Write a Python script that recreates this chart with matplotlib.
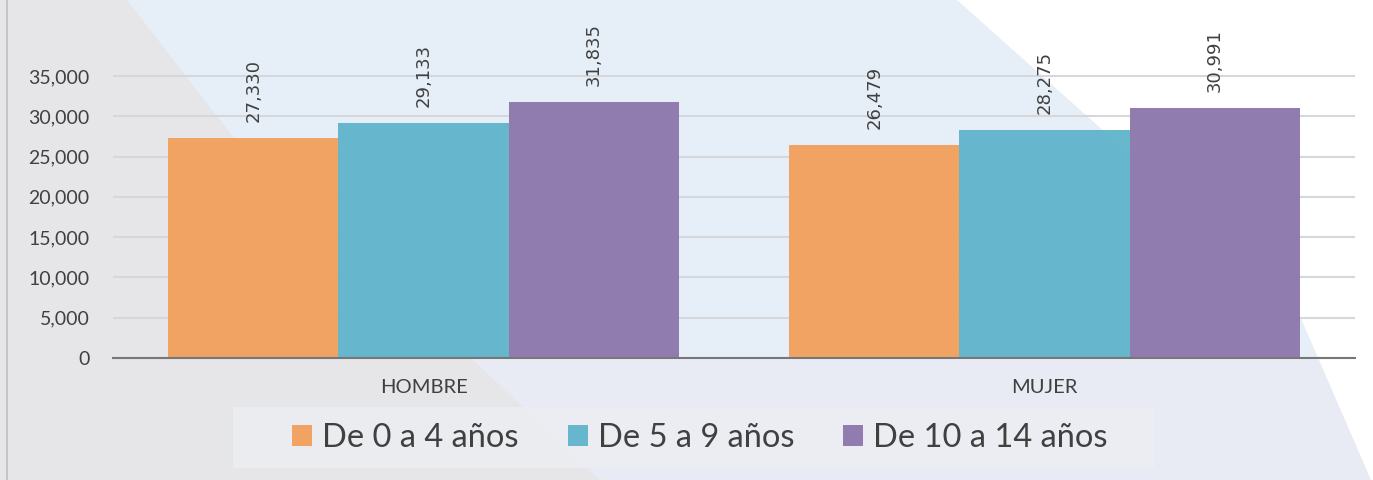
import matplotlib
matplotlib.use("Agg")
import matplotlib.pyplot as plt
from matplotlib.patches import Polygon, Rectangle
import numpy as np

categories = ["HOMBRE", "MUJER"]
series_names = ["De 0 a 4 años", "De 5 a 9 años", "De 10 a 14 años"]
values_0_4 = [27330, 26479]
values_5_9 = [29133, 28275]
values_10_14 = [31835, 30991]
series_values = [values_0_4, values_5_9, values_10_14]
colors = ["#f2a15f", "#62b5cc", "#8e78ae"]
yticks = [0, 5000, 10000, 15000, 20000, 25000, 30000, 35000]

W, H = 1373, 480
fig = plt.figure(figsize=(W / 100, H / 100), dpi=100)
fig.patch.set_facecolor("#e8ebf3")

def fx(px):
    return px / W

def fy(py):
    return 1 - py / H

# background decoration
bg = [
    ([(127, 0), (957, 0), (1293, 300), (1320, 360), (473, 360), (233, 137)], "#e6eff8"),
    ([(0, 0), (127, 0), (233, 137), (473, 360), (600, 480), (0, 480)], "#e6e6e9"),
    ([(957, 0), (1373, 0), (1373, 480), (1371, 480), (1293, 300)], "#ffffff"),
]
for pts, c in bg:
    fig.patches.append(Polygon([(fx(x), fy(y)) for x, y in pts], closed=True,
                               transform=fig.transFigure, facecolor=c,
                               edgecolor="none", zorder=-10))
fig.patches.append(Rectangle((fx(6), 0), fx(2), 1, transform=fig.transFigure,
                             facecolor="#c4c5c8", edgecolor="none", zorder=-9))
# legend box
fig.patches.append(Rectangle((fx(233), fy(468)), fx(1155 - 233), (468 - 407) / H,
                             transform=fig.transFigure, facecolor="#eceef2",
                             edgecolor="none", zorder=-8, alpha=0.85))

ax = fig.add_axes([fx(113), fy(358), fx(1355 - 113), (358 - 20) / H])
ax.set_facecolor("none")

x = np.arange(len(categories))
bw = 0.274
offsets = [-bw, 0, bw]
for vals, name, col, off in zip(series_values, series_names, colors, offsets):
    bars = ax.bar(x + off, vals, width=bw, color=col, label=name, zorder=3, alpha=0.97)
    for b, v in zip(bars, vals):
        ax.annotate(f"{v:,}", (b.get_x() + b.get_width() / 2, v),
                    xytext=(0, 11.5), textcoords="offset points",
                    rotation=90, ha="center", va="bottom",
                    fontsize=13, color="#404040", family="DejaVu Sans")

ax.set_xlim(-0.5, 1.5)
ax.set_ylim(0, 35000 * 338 / 282)
ax.set_yticks(yticks)
ax.set_yticklabels([f"{t:,}" for t in yticks], fontsize=14, color="#404040", family="Lato")
ax.set_xticks(x)
ax.set_xticklabels(categories, fontsize=14.5, color="#404040", family="Lato")
ax.tick_params(axis="y", length=0, pad=17)
ax.tick_params(axis="x", length=0, pad=15)
ax.grid(axis="y", color="#d6d7da", linewidth=1.5, zorder=0)
for s in ["top", "right", "left"]:
    ax.spines[s].set_visible(False)
ax.spines["bottom"].set_color("#777777")
ax.spines["bottom"].set_linewidth(1.5)
ax.spines["bottom"].set_zorder(4)

leg = fig.legend(loc="center", bbox_to_anchor=(fx(700), fy(438)), ncol=3,
                 frameon=False, prop={"family": "Lato", "size": 23.5},
                 handlelength=0.62, handleheight=0.62, handletextpad=0.3,
                 columnspacing=1.5, labelcolor="#404040")

fig.savefig("out.png", dpi=100, facecolor=fig.get_facecolor())
